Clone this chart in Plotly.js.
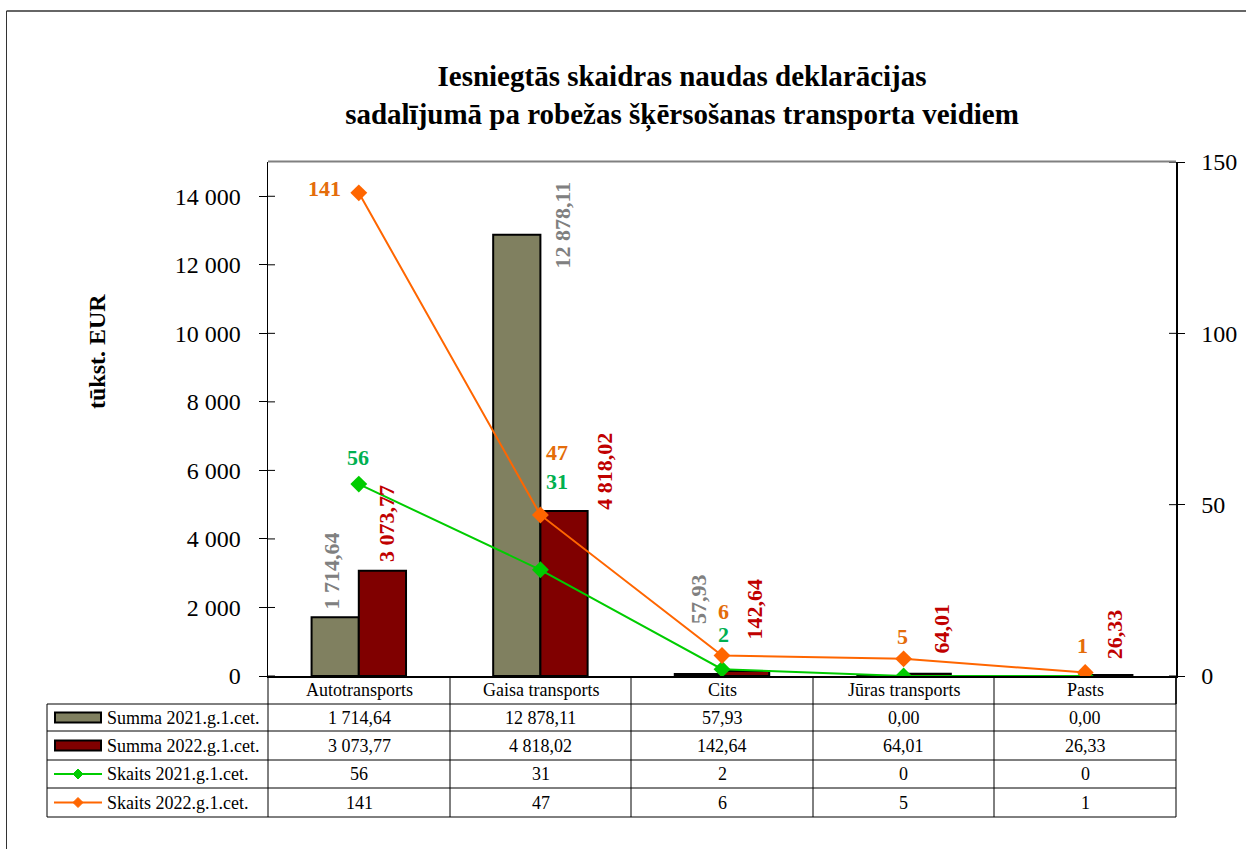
<!DOCTYPE html>
<html>
<head>
<meta charset="utf-8">
<script src="https://cdn.plot.ly/plotly-3.0.1.min.js"></script>
<style>
html,body{margin:0;padding:0;background:#fff;}
#chart{width:1246px;height:849px;}
</style>
</head>
<body>
<div id="chart"></div>
<script>
// ---- data ----
const categories = ['Autotransports', 'Gaisa transports', 'Cits', 'Jūras transports', 'Pasts'];
const seriesNames = ['Summa 2021.g.1.cet.', 'Summa 2022.g.1.cet.', 'Skaits 2021.g.1.cet.', 'Skaits 2022.g.1.cet.'];
const summa2021 = [1714.64, 12878.11, 57.93, 0.00, 0.00];
const summa2022 = [3073.77, 4818.02, 142.64, 64.01, 26.33];
const skaits2021 = [56, 31, 2, 0, 0];
const skaits2022 = [141, 47, 6, 5, 1];
const leftTicks = [0, 2000, 4000, 6000, 8000, 10000, 12000, 14000];
const rightTicks = [0, 50, 100, 150];
const titleText = '<b>Iesniegtās skaidras naudas deklarācijas<br>sadalījumā pa robežas šķērsošanas transporta veidiem</b>';
const yTitle = 'tūkst. EUR';

// ---- styles ----
const FONT = '"Liberation Serif", "Times New Roman", serif';
const C_GRAYBAR = '#808060', C_REDBAR = '#800000', C_GREEN = '#00CC00', C_ORANGE = '#FF6600';
const L_GRAY = '#808080', L_RED = '#C00000', L_ORANGE = '#E46C0A', L_GREEN = '#00B050';
const W = 1246, H = 849, ML = 268, MR = 70, MT = 162, MB = 173;
const PW = W - ML - MR, PH = H - MT - MB;
const px = x => (x - ML) / PW;           // pixel -> paper x
const py = y => (H - MB - y) / PH;       // pixel -> paper y

// label offsets (pixels, relative to category centre / value)
const offGray = {dx: [-27, 22, -24, 0, 0], dy: [7, -35, 49, 0, 0]};
const offRed = {dx: [27, 64, 33, 38, 29], dy: [8, 0, 30, 19, 15]};
const offOrange = {dx: [-34, 17, 1, -1, -3], dy: [4, 62, 44, 22, 27]};
const offGreen = {dx: [-1, 17, 1, 0, 0], dy: [27, 88, 35, 0, 0]};

function fmt(v, d) {
  const s = v.toFixed(d);
  let parts = s.split('.');
  let i = parts[0].replace(/\B(?=(\d{3})+(?!\d))/g, ' ');
  return parts.length > 1 ? i + ',' + parts[1] : i;
}

const traces = [
  {type: 'bar', name: seriesNames[0], x: categories, y: summa2021,
   marker: {color: C_GRAYBAR, line: {color: '#000', width: 2}}, hoverinfo: 'skip'},
  {type: 'bar', name: seriesNames[1], x: categories, y: summa2022,
   marker: {color: C_REDBAR, line: {color: '#000', width: 2}}, hoverinfo: 'skip'},
  {type: 'scatter', mode: 'lines+markers', name: seriesNames[2], x: categories, y: skaits2021, yaxis: 'y2',
   line: {color: C_GREEN, width: 2}, marker: {symbol: 'diamond', size: 13, color: C_GREEN}, hoverinfo: 'skip'},
  {type: 'scatter', mode: 'lines+markers', name: seriesNames[3], x: categories, y: skaits2022, yaxis: 'y2',
   line: {color: C_ORANGE, width: 2}, marker: {symbol: 'diamond', size: 13, color: C_ORANGE}, hoverinfo: 'skip'}
];

const annotations = [];
const shapes = [];

function addLabels(vals, off, yref, color, rotated, dec) {
  vals.forEach((v, i) => {
    if (v === 0) return;
    annotations.push({
      x: categories[i], y: v, xref: 'x', yref: yref,
      text: '<b>' + fmt(v, dec) + '</b>', showarrow: false,
      textangle: rotated ? -90 : 0,
      xanchor: 'center', yanchor: rotated ? 'bottom' : 'middle',
      xshift: off.dx[i], yshift: off.dy[i], borderpad: 0,
      font: {family: FONT, size: 22, color: color}
    });
  });
}
addLabels(summa2021, offGray, 'y', L_GRAY, true, 2);
addLabels(summa2022, offRed, 'y', L_RED, true, 2);
addLabels(skaits2022, offOrange, 'y2', L_ORANGE, false, 0);
addLabels(skaits2021, offGreen, 'y2', L_GREEN, false, 0);

// y-axis title
annotations.push({x: px(97), y: py(352), xref: 'paper', yref: 'paper', text: '<b>' + yTitle + '</b>',
  textangle: -90, showarrow: false, xanchor: 'center', yanchor: 'middle',
  font: {family: FONT, size: 24, color: '#000'}});

// ---- data table ----
const colEdges = [268, 450, 631, 813, 994, 1176];
const rowEdges = [676, 704, 731, 760, 788, 817];
const tableLeft = 47;
function line(x0, y0, x1, y1, color, width) {
  shapes.push({type: 'line', xref: 'paper', yref: 'paper', x0: px(x0), y0: py(y0), x1: px(x1), y1: py(y1),
    line: {color: color || '#000', width: width || 1}});
}
for (let r = 1; r < rowEdges.length; r++) line(tableLeft, rowEdges[r], 1176, rowEdges[r]);
colEdges.forEach(c => line(c, 676, c, 817));
line(tableLeft, 704, tableLeft, 817);

categories.forEach((c, i) => {
  annotations.push({x: px((colEdges[i] + colEdges[i + 1]) / 2), y: py((rowEdges[0] + rowEdges[1]) / 2),
    xref: 'paper', yref: 'paper', text: c, showarrow: false, xanchor: 'center', yanchor: 'middle',
    font: {family: FONT, size: 18, color: '#000'}});
});
const tableRows = [
  {vals: summa2021, dec: 2}, {vals: summa2022, dec: 2}, {vals: skaits2021, dec: 0}, {vals: skaits2022, dec: 0}
];
tableRows.forEach((row, r) => {
  const yc = (rowEdges[r + 1] + rowEdges[r + 2]) / 2;
  row.vals.forEach((v, i) => {
    annotations.push({x: px((colEdges[i] + colEdges[i + 1]) / 2), y: py(yc), xref: 'paper', yref: 'paper',
      text: fmt(v, row.dec), showarrow: false, xanchor: 'center', yanchor: 'middle',
      font: {family: FONT, size: 18, color: '#000'}});
  });
  annotations.push({x: px(105), y: py(yc), xref: 'paper', yref: 'paper', text: seriesNames[r], showarrow: false,
    xanchor: 'left', yanchor: 'middle', font: {family: FONT, size: 18, color: '#000'}});
  if (r < 2) {
    shapes.push({type: 'rect', xref: 'paper', yref: 'paper', x0: px(55), x1: px(101), y0: py(yc - 5), y1: py(yc + 5),
      fillcolor: r === 0 ? C_GRAYBAR : C_REDBAR, line: {color: '#000', width: 2}});
  } else {
    const col = r === 2 ? C_GREEN : C_ORANGE;
    line(54, yc, 102, yc, col, 2);
    const cx = 78, d = 5;
    shapes.push({type: 'path', xref: 'paper', yref: 'paper',
      path: 'M' + px(cx - d) + ',' + py(yc) + ' L' + px(cx) + ',' + py(yc - d) + ' L' + px(cx + d) + ',' + py(yc) +
            ' L' + px(cx) + ',' + py(yc + d) + ' Z', fillcolor: col, line: {color: col, width: 1}});
  }
});

line(268, 161.5, 1176, 161.5, '#808080', 2);
line(1176, 676, 1176, 704, '#000', 1.5);
leftTicks.forEach(t => shapes.push({type: 'line', xref: 'paper', yref: 'y', x0: 0, x1: 7 / PW, y0: t, y1: t,
  line: {color: '#000', width: 1}}));
rightTicks.forEach(t => shapes.push({type: 'line', xref: 'paper', yref: 'y2', x0: 1 - 7 / PW, x1: 1, y0: t, y1: t,
  line: {color: '#000', width: 1}}));
line(6.5, 11, 6.5, 849, '#333', 1);
line(6.5, 11, 1246, 11, '#333', 1.5);

const layout = {
  width: W, height: H,
  margin: {l: ML, r: MR, t: MT, b: MB, pad: 0},
  paper_bgcolor: '#fff', plot_bgcolor: '#fff',
  separators: ', ',
  showlegend: false,
  barmode: 'group', bargap: 0.48, bargroupgap: 0,
  title: {text: titleText, x: 682 / W, xanchor: 'center', y: 1 - 86 / H, yanchor: 'middle', yref: 'container',
    font: {family: FONT, size: 29, color: '#000'}},
  xaxis: {showticklabels: false, ticks: '', showline: true, linecolor: '#000', linewidth: 1.5,
    showgrid: false, zeroline: false, fixedrange: true},
  yaxis: {range: [0, 15000], tickvals: leftTicks, tickformat: ',.0f', ticks: 'outside', ticklen: 8,
    tickcolor: '#000', showline: true, linecolor: '#000', linewidth: 1.5, showgrid: false, zeroline: false,
    tickfont: {family: FONT, size: 24, color: '#000'}, ticklabelstandoff: 13},
  yaxis2: {range: [0, 150], tickvals: rightTicks, overlaying: 'y', side: 'right', ticks: 'outside', ticklen: 7,
    tickcolor: '#000', showline: true, linecolor: '#000', linewidth: 1.5, showgrid: false, zeroline: false,
    tickfont: {family: FONT, size: 24, color: '#000'}, ticklabelstandoff: 12},
  annotations: annotations,
  shapes: shapes,
  font: {family: FONT}
};

Plotly.newPlot('chart', traces, layout, {staticPlot: true, displayModeBar: false});
</script>
</body>
</html>
